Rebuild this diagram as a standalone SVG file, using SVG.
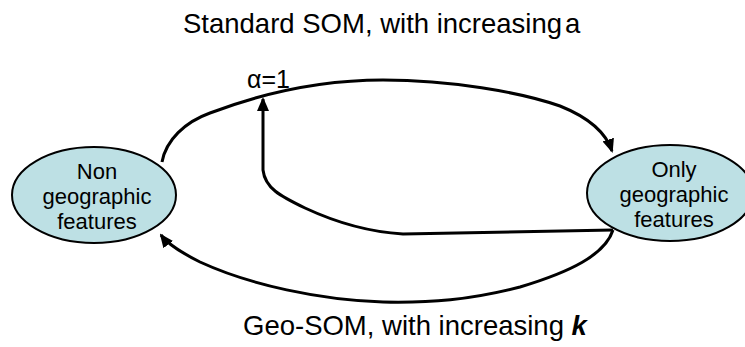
<svg xmlns="http://www.w3.org/2000/svg" width="745" height="347" viewBox="0 0 745 347">
<defs>
<style>
.t{font-family:"Liberation Sans",Arial,sans-serif;fill:#000}
.node{fill:#bde0e4;stroke:#000;stroke-width:2}
.nt{font-size:22px;text-anchor:middle}
.edge{fill:none;stroke:#000;stroke-width:3;stroke-linejoin:round}
</style>
<marker id="ah" markerUnits="userSpaceOnUse" markerWidth="14" markerHeight="12" viewBox="0 0 14 12" refX="12" refY="6" orient="auto">
<path d="M0,0 L14,6 L0,12 z" fill="#000"/>
</marker>
</defs>
<rect width="745" height="347" fill="#fff"/>
<text class="t" x="183" y="33" font-size="27.5">Standard SOM, with increasing<tspan dx="3">a</tspan></text>
<text class="t" x="243" y="335" font-size="27.5">Geo-SOM, with increasing <tspan font-weight="bold" font-style="italic">k</tspan></text>
<g id="node-non">
<ellipse class="node" cx="94" cy="195" rx="82" ry="48"/>
<text class="t nt" x="97" y="179">Non</text>
<text class="t nt" x="97" y="204">geographic</text>
<text class="t nt" x="97" y="229">features</text>
</g>
<g id="node-only">
<ellipse class="node" cx="670" cy="193" rx="83" ry="48"/>
<text class="t nt" x="674" y="177">Only</text>
<text class="t nt" x="674" y="202">geographic</text>
<text class="t nt" x="674" y="227">features</text>
</g>
<g id="connectors">
<path class="edge" marker-end="url(#ah)" d="M162,162 C166,140 185,122 210,113 C260,94 320,80 383,80 C450,80 520,92 560,106 C585,116 605,130 612,151"/>
<path class="edge" marker-end="url(#ah)" d="M613,230 C605,255 570,272 520,287 C470,300 430,303 383,302 C320,300 250,285 200,262 C180,252 167,243 161,235"/>
<path class="edge" marker-end="url(#ah)" d="M613,230 L403,234 C370,232 335,222 305,208 C280,196 265,188 263,170 L263,99"/>
<text class="t" x="247" y="88" font-size="25">α=1</text>
</g>
</svg>
